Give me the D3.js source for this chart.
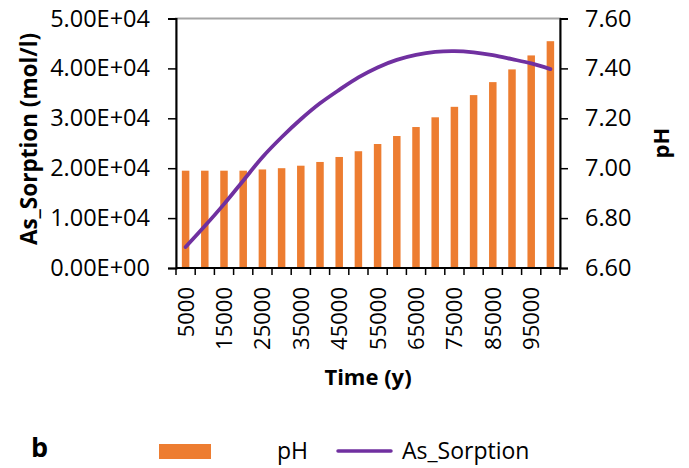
<!DOCTYPE html>
<html>
<head>
<meta charset="utf-8">
<script src="https://cdn.jsdelivr.net/npm/d3@7"></script>
<style>
  body { margin: 0; background: #fff; }
  svg { display: block; font-family: "Open Sans", sans-serif; }
</style>
</head>
<body>
<svg id="chart" width="689" height="468"></svg>
<script>
// Chart data
const times = [5000, 10000, 15000, 20000, 25000, 30000, 35000, 40000, 45000, 50000,
  55000, 60000, 65000, 70000, 75000, 80000, 85000, 90000, 95000, 100000];
const phValues = [6.99, 6.99, 6.99, 6.99, 6.995, 7.00, 7.01, 7.025, 7.045, 7.068,
  7.097, 7.129, 7.165, 7.204, 7.246, 7.293, 7.345, 7.396, 7.452, 7.509];
const sorptionValues = [4200, 8400, 12800, 17500, 22200, 26200, 29800, 33000, 35700, 38200,
  40200, 41700, 42700, 43300, 43450, 43200, 42650, 41850, 41000, 39850];
const timeLabels = [5000, 15000, 25000, 35000, 45000, 55000, 65000, 75000, 85000, 95000];
const sorptionTicks = [0, 10000, 20000, 30000, 40000, 50000];
const phTicks = [6.6, 6.8, 7.0, 7.2, 7.4, 7.6];

const svg = d3.select('#chart');
const margin = {top: 18.5, right: 129, bottom: 200, left: 176};
const width = 689 - margin.left - margin.right;
const height = 468 - margin.top - margin.bottom;

const g = svg.append('g')
  .attr('transform', 'translate(' + margin.left + ',' + margin.top + ')');

// scales
const xCat = d3.scaleBand().domain(times).range([0, width]);
const yLeft = d3.scaleLinear().domain([0, 50000]).range([height, 0]);
const yRight = d3.scaleLinear().domain([6.6, 7.6]).range([height, 0]);
const barWidth = 7.5;

// plot area border (top edge is visible)
g.append('rect')
  .attr('width', width).attr('height', height)
  .attr('fill', 'none').attr('stroke', '#a6a6a6').attr('stroke-width', 2);

// bars - pH (secondary axis)
g.append('g').selectAll('rect')
  .data(times)
  .enter().append('rect')
  .attr('x', (d) => xCat(d) + (xCat.bandwidth() - barWidth) / 2)
  .attr('width', barWidth)
  .attr('y', (d, i) => yRight(phValues[i]))
  .attr('height', (d, i) => height - yRight(phValues[i]))
  .attr('fill', '#ED7D31');

// line - As_Sorption (primary axis)
const line = d3.line()
  .x((d, i) => xCat(times[i]) + xCat.bandwidth() / 2)
  .y((d) => yLeft(d))
  .curve(d3.curveCatmullRom.alpha(0.5));

g.append('path')
  .datum(sorptionValues)
  .attr('d', line)
  .attr('fill', 'none')
  .attr('stroke', '#7030A0')
  .attr('stroke-width', 3.8)
  .attr('stroke-linecap', 'round');

// left axis
const leftAxis = g.append('g')
  .call(d3.axisLeft(yLeft).tickValues(sorptionTicks).tickSize(8).tickPadding(18)
    .tickFormat((d) => d.toExponential(2).replace('e', 'E').replace(/E([+-])(\d)$/, 'E$10$2')));

// right axis
const rightAxis = g.append('g')
  .attr('transform', 'translate(' + width + ',0)')
  .call(d3.axisRight(yRight).tickValues(phTicks).tickSize(8).tickPadding(17)
    .tickFormat(d3.format('.2f')));

// bottom axis - ticks at category boundaries
const bottomAxis = g.append('g')
  .attr('transform', 'translate(0,' + height + ')');
bottomAxis.append('line')
  .attr('x1', 0).attr('x2', width)
  .attr('stroke', '#000').attr('stroke-width', 2);
bottomAxis.selectAll('line.tick')
  .data(times.concat(['end']))
  .enter().append('line')
  .attr('class', 'tick')
  .attr('x1', (d) => d === 'end' ? width : xCat(d))
  .attr('x2', (d) => d === 'end' ? width : xCat(d))
  .attr('y1', 0).attr('y2', 7)
  .attr('stroke', '#000').attr('stroke-width', 1.5);
bottomAxis.selectAll('text')
  .data(timeLabels)
  .enter().append('text')
  .attr('transform', (d) => 'translate(' + (xCat(d) + xCat.bandwidth() / 2) + ',19) rotate(-90)')
  .attr('dy', '0.36em')
  .attr('text-anchor', 'end')
  .attr('font-size', 22)
  .attr('fill', '#000')
  .text((d) => d);

[leftAxis, rightAxis].forEach((a) => {
  a.select('.domain').attr('stroke', '#000').attr('stroke-width', 2);
  a.selectAll('.tick line').attr('stroke', '#000').attr('stroke-width', 1.5);
  a.selectAll('.tick text')
    .attr('font-family', '"Open Sans", sans-serif')
    .attr('font-size', 23.5)
    .attr('fill', '#000');
});

// axis titles
svg.append('text')
  .attr('transform', 'translate(29,139) rotate(-90)')
  .attr('dy', '0.35em')
  .attr('text-anchor', 'middle')
  .attr('font-size', 22.5)
  .attr('font-weight', 'bold')
  .text('As_Sorption (mol/l)');

svg.append('text')
  .attr('transform', 'translate(661,143) rotate(-90)')
  .attr('dy', '0.35em')
  .attr('text-anchor', 'middle')
  .attr('font-size', 22)
  .attr('font-weight', 'bold')
  .text('pH');

svg.append('text')
  .attr('x', 368)
  .attr('y', 385)
  .attr('text-anchor', 'middle')
  .attr('font-size', 22)
  .attr('font-weight', 'bold')
  .text('Time (y)');

// panel letter
svg.append('text')
  .attr('x', 31)
  .attr('y', 457)
  .attr('font-size', 27)
  .attr('font-weight', 'bold')
  .text('b');

// legend
const legend = svg.append('g');
legend.append('rect')
  .attr('x', 159).attr('y', 444).attr('width', 52).attr('height', 15)
  .attr('fill', '#ED7D31');
legend.append('text')
  .attr('x', 277).attr('y', 459)
  .attr('font-size', 23)
  .text('pH');
legend.append('line')
  .attr('x1', 338).attr('x2', 391).attr('y1', 451).attr('y2', 451)
  .attr('stroke', '#7030A0').attr('stroke-width', 3.5).attr('stroke-linecap', 'round');
legend.append('text')
  .attr('x', 402).attr('y', 459)
  .attr('font-size', 23)
  .text('As_Sorption');
</script>
</body>
</html>
